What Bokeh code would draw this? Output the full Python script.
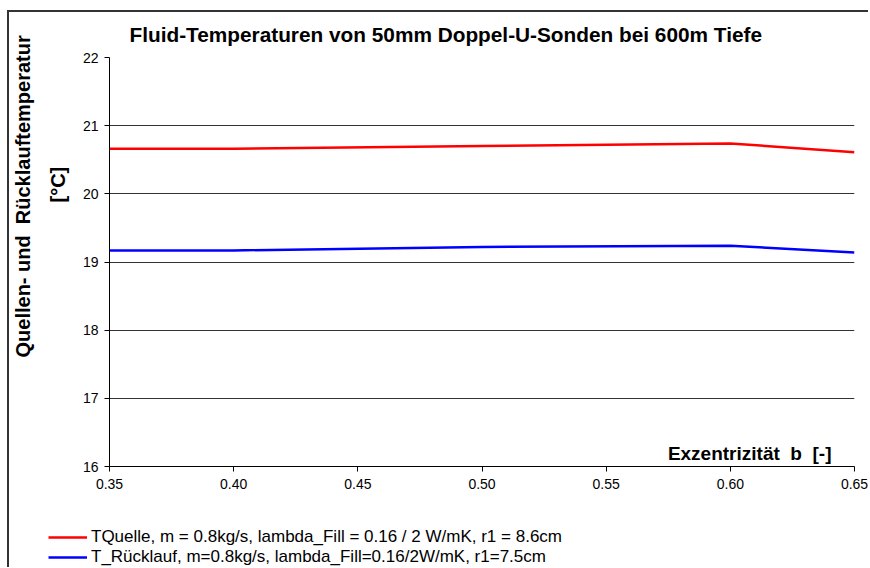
from bokeh.plotting import figure
from bokeh.models import (Range1d, FixedTicker, NumeralTickFormatter, Label,
                          Legend, LegendItem, Title)
from bokeh.embed import file_html
from bokeh.resources import INLINE

# ---- data ----
b_values = [0.35, 0.40, 0.50, 0.60, 0.65]
t_quelle = [20.66, 20.66, 20.70, 20.74, 20.61]
t_ruecklauf = [19.17, 19.17, 19.22, 19.24, 19.14]
x_ticks = [0.35, 0.40, 0.45, 0.50, 0.55, 0.60, 0.65]
y_ticks = [16, 17, 18, 19, 20, 21, 22]

title_text = "Fluid-Temperaturen von 50mm Doppel-U-Sonden bei 600m Tiefe"
ylabel_1 = "Quellen-\u00a0und\u00a0 Rücklauftemperatur"
ylabel_2 = "[°C]"
xlabel = "Exzentrizität\u00a0 b\u00a0 [-]"
label_quelle = "TQuelle, m = 0.8kg/s, lambda_Fill = 0.16 / 2 W/mK, r1 = 8.6cm"
label_rueck = "T_Rücklauf, m=0.8kg/s, lambda_Fill=0.16/2W/mK, r1=7.5cm"

FONT = "Liberation Sans"
RED = "#ff0000"
BLUE = "#0000ff"
BORDER = "2px solid #333333"

p = figure(width=861, height=515, output_backend="svg", toolbar_location=None,
           x_range=Range1d(0.35, 0.65), y_range=Range1d(16, 22),
           min_border_left=99, min_border_right=16, min_border_top=45,
           min_border_bottom=61)
p.styles = {"margin-left": "7px", "margin-top": "10px",
            "border-left": BORDER, "border-top": BORDER}
p.outline_line_color = None
p.background_fill_color = "white"
p.border_fill_color = "white"

# title
p.title.text = title_text
p.title.text_font = FONT
p.title.text_font_size = "20.8px"
p.title.text_font_style = "bold"
p.title.text_color = "black"
p.title.align = "left"
p.title.vertical_align = "top"
p.title.offset = 20
p.title.standoff = 19

# grid
p.xgrid.visible = False
p.ygrid.ticker = FixedTicker(ticks=y_ticks)
p.ygrid.grid_line_color = "#333333"
p.ygrid.grid_line_width = 1

# axes
for ax in (p.xaxis[0], p.yaxis[0]):
    ax.axis_line_color = "black"
    ax.major_tick_line_color = "black"
    ax.major_tick_out = 5
    ax.major_tick_in = 0
    ax.minor_tick_line_color = None
    ax.major_label_text_font = FONT
    ax.major_label_text_font_size = "14px"
    ax.major_label_text_color = "black"
p.xaxis[0].ticker = FixedTicker(ticks=x_ticks)
p.xaxis[0].formatter = NumeralTickFormatter(format="0.00")
p.xaxis[0].major_label_standoff = 7
p.yaxis[0].ticker = FixedTicker(ticks=y_ticks)
p.yaxis[0].major_label_standoff = 6

p.line(b_values, t_quelle, line_color=RED, line_width=2.5)
p.line(b_values, t_ruecklauf, line_color=BLUE, line_width=2.5)

# y label (two lines) as side titles
p.add_layout(Title(text=ylabel_2, text_font=FONT, text_font_size="20px",
                   text_font_style="bold", text_color="black", align="left",
                   offset=264, standoff=22), "left")
p.add_layout(Title(text=ylabel_1, text_font=FONT, text_font_size="20px",
                   text_font_style="bold", text_color="black", align="left",
                   offset=109, standoff=0), "left")

# x label
p.add_layout(Label(x=722, y=13, x_units="screen", y_units="screen",
                   text=xlabel, text_font=FONT, text_font_size="19px",
                   text_font_style="bold", text_color="black",
                   text_align="right", text_baseline="middle"))

# legend strip below the chart (separate root, continues the chart border)
lg = figure(width=861, height=42, output_backend="svg", toolbar_location=None,
            x_axis_location=None, y_axis_location=None,
            x_range=Range1d(0, 1), y_range=Range1d(0, 1),
            min_border=0)
lg.styles = {"margin-left": "7px", "border-left": BORDER}
lg.outline_line_color = None
lg.xgrid.visible = False
lg.ygrid.visible = False
lr1 = lg.line(b_values, t_quelle, line_color=RED, line_width=2.5)
lr2 = lg.line(b_values, t_ruecklauf, line_color=BLUE, line_width=2.5)
legend = Legend(items=[LegendItem(label=label_quelle, renderers=[lr1]),
                       LegendItem(label=label_rueck, renderers=[lr2])],
                location=(39, 0))
legend.label_text_font = FONT
legend.label_text_font_size = "17px"
legend.label_text_color = "black"
legend.glyph_width = 39
legend.glyph_height = 20
legend.label_height = 20
legend.label_standoff = 4
legend.spacing = 0
legend.padding = 0
legend.margin = 0
legend.border_line_color = None
legend.background_fill_alpha = 0
lg.add_layout(legend, "center")

open("out.html", "w").write(file_html([p, lg], INLINE))
